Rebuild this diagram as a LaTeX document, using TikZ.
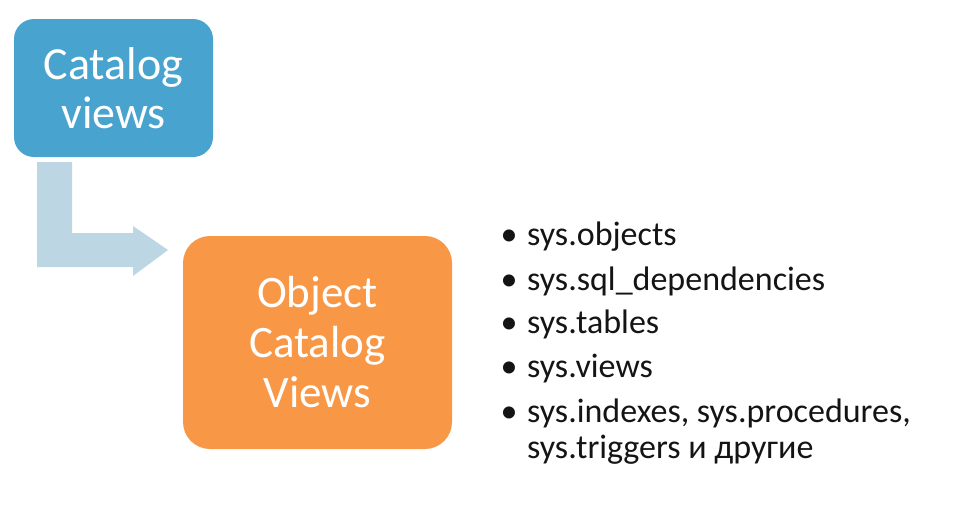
\documentclass[tikz,border=0pt]{standalone}
\usepackage{fontspec}
\setmainfont{Carlito}
\definecolor{catblue}{RGB}{72,164,206}
\definecolor{objorange}{RGB}{248,152,70}
\definecolor{arrowblue}{RGB}{188,214,228}
\definecolor{listtext}{RGB}{20,20,20}
\begin{document}
\begin{tikzpicture}[x=1pt,y=-1pt,
  boxnode/.style={align=center,text=white,inner sep=0pt},
  itemnode/.style={anchor=base west,inner sep=0pt,text=listtext,font=\fontsize{34}{40}\selectfont},
  bulletnode/.style={anchor=base,inner sep=0pt,text=listtext,font=\fontsize{34}{40}\selectfont}]
\useasboundingbox (0,0) rectangle (971,523);
% boxes
\node[boxnode,fill=catblue,rounded corners=20pt,minimum width=199pt,minimum height=138pt,
      font=\fontsize{46}{49}\selectfont] (cat) at (113.5,88) {Catalog\\views};
\node[boxnode,fill=objorange,rounded corners=27pt,minimum width=269pt,minimum height=213pt,
      font=\fontsize{45}{50}\selectfont] (obj) at (317.5,342.5) {Object\\Catalog\\Views};
% bent block arrow
\fill[arrowblue] (37,162) -- (72,162) -- (72,233) -- (133,233) -- (133,226) -- (168,250)
  -- (133,276) -- (133,267) -- (37,267) -- cycle;
% list
\node[bulletnode] (b1) at (509,245) {•};
\node[itemnode] (t1) at (527,245) {sys.objects};
\node[bulletnode] (b2) at (509,290) {•};
\node[itemnode] (t2) at (527,290) {sys.sql\_dependencies};
\node[bulletnode] (b3) at (509,333) {•};
\node[itemnode] (t3) at (527,333) {sys.tables};
\node[bulletnode] (b4) at (509,377) {•};
\node[itemnode] (t4) at (527,377) {sys.views};
\node[bulletnode] (b5) at (509,422) {•};
\node[itemnode] (t5) at (527,422) {sys.indexes, sys.procedures,};
\node[itemnode] (t6) at (527,458) {sys.triggers и другие};
\end{tikzpicture}
\end{document}
